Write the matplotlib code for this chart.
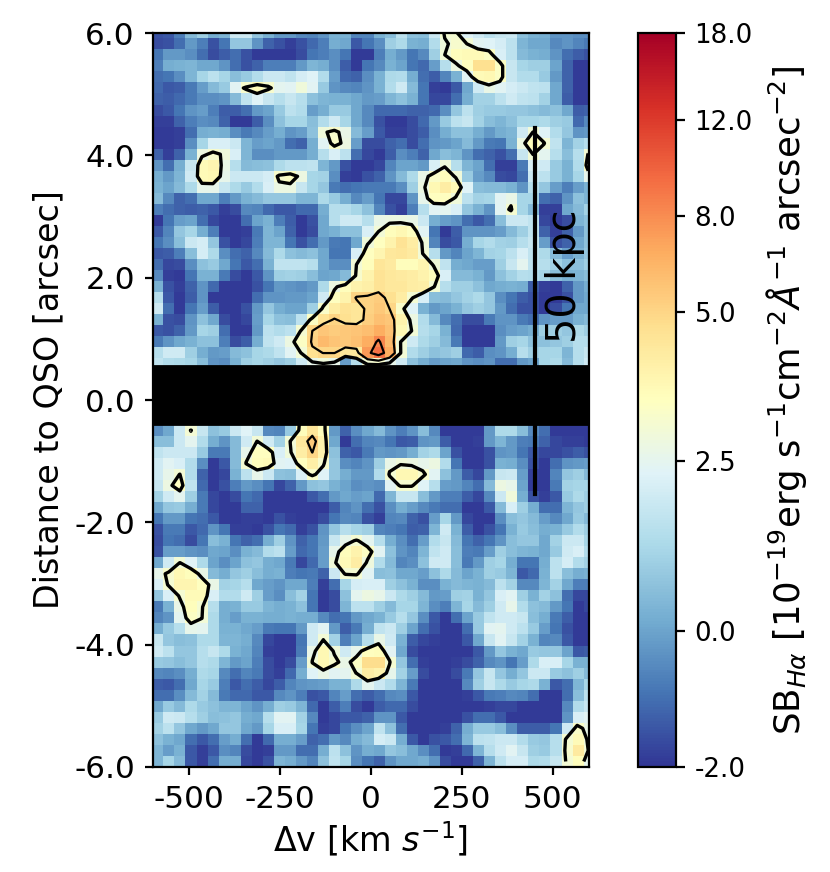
import numpy as np
import matplotlib
matplotlib.use("Agg")
import matplotlib.pyplot as plt
from matplotlib.colors import FuncNorm

plt.rcParams['axes.unicode_minus'] = False

# surface brightness, row by row, 40 columns
above_band = [
[-1.5,-1.4,-.7,.5,1,.2,.4,2,2,.8,.3,-.2,-.2,-.5,-.6,-.3,.3,.3,-.6,-.6, .3,.6,1.6,.7,.6,1.9,3.1,3.1,2.3,2,1.6,1.8,1.9,.7,.3,.2,-.3,-.3,-.4,-.4],
[-1.6,-1.5,-1,-.2,-.7,-1.5,-.9,.8,.8,-.3,-1.2,-1.5,-1.8,-1.5,-1.1,-.7,.2,.1,-1.4,-.9, -.4,1,1.3,.3,.2,1.4,2.9,3.2,3,2.4,2.3,2.1,1.6,.4,.1,.1,-.5,-.3,-.6,-.8],
[-.9,-.2,-.2,-.4,-1,-1.6,-1.3,-1,-1.5,-1.9,-1.9,-1.9,-1.9,-1.6,-.9,-.7,-.4,-.9,-1.9,-1.9, -.7,.2,-.2,-.9,-.5,1,3,3.6,3.7,3.7,3.4,2.2,1.6,.5,.3,.2,-.3,-1,-1.3,-1.5],
[-.7,.2,.3,.4,.1,.1,-.3,-1,-1.5,-1.2,-.7,-.7,-.7,-.2,.4,.2,-.4,-1.3,-1.9,-.9, -.5,.3,0,-.9,-1.1,-.1,1.5,2.8,3.5,4.7,4.7,3.4,1.8,1.2,1,1,0,-1.2,-1.9,-1.9],
[-1,-.9,-.4,.4,1.2,1.6,1.2,.6,.9,1.4,1.9,1.9,1.7,2.1,2.3,1.4,-.1,-1.1,-1.2,-.4, .3,1.3,1.4,.2,-1,-1.3,-.6,.3,2.4,3.7,3.8,3.4,1.8,1.4,1.4,.9,-.2,-1.2,-1.9,-1.9],
[-1.1,-1.4,-1.3,-.8,-.1,.5,.9,2.4,3.2,3.7,3.2,2.5,2.4,2.9,2.4,.9,-.3,-.5,-.6,-.3, .3,1.4,2,.5,-.9,-1.8,-1.9,-1.4,.1,2,2.7,2.4,2.1,1.9,1.7,1.6,.1,-1.2,-1.9,-1.9],
[-1.2,-1.3,-1.1,-.8,-.4,-.4,-.3,.5,1.7,2.3,1.8,1.5,1.8,1.5,.7,.4,.3,.3,.1,-.2, -.1,.4,.7,.3,-.9,-1.7,-1.7,-1,.2,1.1,1.1,1.6,2,1.7,1.6,1.1,.1,-1.3,-1.9,-1.9],
[-1.6,-1.4,-.9,-.3,-.1,-.7,-1.3,-1.3,-1,-.2,0,.9,1.6,1.4,-.1,.2,.9,.9,.1,-.5, -1.1,-1.1,-1.1,-1.2,-1.2,-1.1,-.4,.8,1.6,1,.9,.9,.8,.8,.7,.5,.7,.1,-1.3,-1.2],
[-1.8,-1.8,-1.2,-.7,-.4,-.5,-1.2,-1.9,-1.9,-1.3,-.4,.7,1.2,1.2,.6,1.4,2,1.2,.1,-.5, -1.5,-1.9,-1.9,-1.6,-1.1,-.2,.9,1.6,1.8,1.1,.6,.4,.7,1.2,1.2,1.3,1,.9,-1.1,-.5],
[-1.9,-1.9,-1.8,-1,.2,.3,.2,-.4,-.8,-.5,-.1,.2,-.3,-.1,.7,2.9,3.2,2.7,.5,-.1, -1.4,-1.8,-1.8,-1.6,-1.3,-.4,.2,.7,.7,.2,-.2,.2,.4,2,3.02,2.3,1.4,.8,-.3,-.2],
[-1.9,-1.9,-1.8,-.4,1.2,2.2,2.2,1.9,.4,-.1,0,-.2,-1,-1.2,.2,2.4,3.3,2.8,-.1,-1.6, -1.6,-1.2,-1,-1.6,-1,-.3,-.2,0,.5,-.2,-.8,-.9,.3,2.8,3.6,3.05,1.7,.4,1.1,1.5],
[-1.2,-1.8,-1.2,.3,2.8,3.2,2.9,2.2,.4,-.4,-.4,-.2,-.2,-.2,.2,1.5,2.2,1.6,-1,-1.7, -1.9,-1.3,-.4,-.7,-1.2,.1,.6,.4,-.3,-1,-1.2,-1.5,-1,1.8,3.02,2.5,1.5,.6,1.5,3.05],
[-.3,-1,.2,1.8,3.7,3.9,2.7,1.5,.5,.6,.7,1.3,1.6,1.6,1.7,.4,-.2,-1.5,-1.9,-1.9, -1.7,-.6,0,0,-.2,2.2,2.9,1.5,.4,0,-1,-1.8,-1.8,-.8,2.2,2,.9,.3,1.4,3.4],
[.2,-.2,.4,2,3.7,3.8,2.6,1.9,1.9,1.9,2.1,3.2,3.4,2.8,1.2,1.1,-.4,-1.8,-1.9,-1.5, -1.2,-.3,.5,1.3,2.7,3.3,3.6,2.9,.9,-.1,-.5,-1.6,-1.7,-1,1.9,1.6,.9,.3,1.2,2.6],
[.3,0,.5,1.3,2.6,2.6,1.8,1.3,.9,1.4,2.2,2.8,2.8,1.8,1.2,.8,-.8,-1,-.9,-.8, -.8,-.8,-.4,1,2.8,3.8,4.2,3.7,2.3,.6,.5,.5,.3,-.3,1.5,.8,-.1,-.7,-.1,.3],
[.5,-.5,-1.2,-1,.1,.1,-.7,-.2,.3,.5,.8,.8,.8,.4,.4,1.3,.9,.2,-.5,-.1, -.9,-1.7,-1.7,-.3,2.6,3.5,3.5,2.9,1.6,1.1,1.2,2.4,2.7,1.2,1.2,-1,-1.2,-.3,.7,.4],
[-.7,-1,-1.2,-1.3,-1.2,-1.4,-1.8,-1.6,-.5,-.6,-1.1,-1.4,-1.4,-1.1,-1.1,.2,1.5,1.5,1.2,.7, -.6,-1.5,-1.8,-.7,1.5,2.4,2.5,2.2,.8,.3,-.3,2.4,3.15,1.2,.5,-1.8,-1.8,.1,.5,1.1],
[-1.9,-.9,-.1,0,-1,-1.7,-1.9,-1.9,-1,0,.3,-.7,-1.3,-1.9,-1.5,.1,1.5,2,2,1.5, 2.7,2.8,2.8,2.7,1.9,.2,-.1,-.3,-1,-1.4,-1,.6,1.9,1.9,1.7,-1.7,-1.9,-1.6,.4,.7],
[-1.4,-.6,.8,1.2,.2,-.7,-1.9,-1.9,-1.8,-.8,.4,0,-1.2,-1.9,-1.6,.1,.3,.7,.7,2.2, 3,3.6,3.8,3.5,2.4,-.9,-1.9,-1.3,-.3,-.3,-.3,-.1,.5,1,1.7,-1.2,-1.8,-1.2,-.2,.7],
[-.9,-.4,.6,1.9,2.1,.8,-1.5,-1.9,-1.7,-.7,.4,.4,-.9,-1.5,-1,-.2,-.8,-.9,.1,2.9, 3.5,4,4.6,4.2,2.9,-.6,-1.6,-1.4,.2,1.2,1.4,1.1,1,1.5,1.8,-.1,-1.5,-1.2,.1,.7],
[-1.4,-1.3,-.7,.6,2.1,1.3,-.4,-1,-1.2,-.5,.5,1.3,.7,.5,.7,.1,-.9,-.9,2.2,3.5, 3.9,4.4,4.5,4.3,3,1.5,-.2,-.6,0,.4,1.1,1.2,1.6,2.2,1.7,1.3,.5,-.1,.3,.8],
[-1,-1.7,-1.6,-.4,.7,.9,.1,-.9,-1.4,-1,.3,1.7,1.7,1.7,1.5,.1,-.4,-.4,3,3.6, 4.5,4.3,3.6,3.6,3.9,2.9,1.7,.2,.1,-.1,-.1,1,1.8,2.5,1.7,1.5,1.1,.7,.7,1],
[-.5,-1.8,-1.9,-.9,.3,.3,-.8,-1.6,-1.9,-1.4,-.3,1,1.1,1,.6,0,.1,.5,3.2,4, 4.6,4.4,4.3,4.2,4,3.6,2.2,.5,.5,.3,-.2,.7,1.1,1.5,1.4,1.2,.6,.3,.4,.6],
[.3,-1.5,-1.8,-1.2,-.3,-1.1,-1.9,-1.9,-1.9,-1.5,-.9,-.2,-.3,-.4,-.2,1.3,2.8,3.6,4,4.1, 4.6,4.4,4.4,4.2,4.1,3.1,1.5,1,1,.7,.1,.2,.3,.2,-1.3,-1.8,-1.9,-1.2,-.2,.2],
[1.5,-1.4,-1.9,-1.3,-.3,-1.9,-1.9,-1.9,-1.9,-1,-.3,-.3,-.2,-.2,0,2,3.5,4,5.1,5.2, 5.4,4.7,4.2,3.1,2.2,.6,.5,.8,1.1,1.3,.8,-.4,-.9,-1.3,-1.5,-1.9,-1.9,-1.5,-.2,.1],
[2,-1,-1.9,-.9,-.1,-1.3,-1.9,-1.9,-1.5,-.2,.8,.2,0,0,1,3.3,4.2,4.6,4.5,5.2, 5.6,5,3.3,2.3,.3,-.2,0,.3,.8,1,.8,-.2,-1,-1.5,-1.5,-1.9,-1.6,-.9,.1,.1],
[.3,-1.5,-1.6,-.3,.7,.1,-1.6,-1.9,-1.7,-.1,1.2,.7,.6,1.6,3.4,4.6,5.1,4.7,4.5,5.3, 6,5.7,4,2.8,1.4,.5,-.5,-1,-1.6,-1.6,-.8,-.3,-.3,-.8,-1,-.3,-.1,-.1,.3,.5],
[-1.4,-1.5,-1.2,-.2,1.2,1,-1,-1.9,-1.9,-.2,1.6,1.4,1.6,3.1,5,5.7,5.4,5.6,5.8,6.1, 6.8,6,3.8,3,1.5,1.2,.3,-1.1,-1.9,-1.9,-1.9,-.4,-.1,0,.2,1,1,.8,1.3,1],
[-.8,-.3,.1,.3,.7,.7,-.7,-1.6,-1.3,.2,1.7,2,2.8,3.4,5.2,6.2,5.8,5.6,6,6.8, 8.3,6.2,3,2,1.3,1,.5,-.8,-1.9,-1.9,-1.9,-.2,1,1.2,.7,.7,.8,1,1.5,1.5],
[1.5,2,2,1,.2,-.2,-.1,.5,.7,1.2,1.3,1.7,2.4,3.02,4.7,5.02,5.02,4.4,4.4,7.5, 9.2,6.8,3.02,1.4,1,.7,.8,1,-1.1,-1.3,-.4,-.3,.2,1.5,1,1.2,1.2,.4,1.5,1.8],
[1.7,1.4,1.3,1.2,.6,-.3,-.4,.3,1,1.2,1,.8,1,2,2.6,2.9,2.6,-.1,1.5,3.1, 3.2,2.6,2,.7,.2,-.1,0,.1,-.3,-.4,-.3,-1,-1,-.2,0,1.2,1.3,.5,1.5,2],
]

# rows hidden by the black band, only the blob at -170 km/s runs into it
behind_band = [
[0]*40,
[0]*40,
[0]*40,
[0]*40,
[0]*13 + [3.5,3.5,3.5] + [0]*24,
]

below_band = [
[-.4,.1,1.9,3.05,1.8,.7,.9,1.9,2.3,1.8,-.5,-.6,.9,3.6,4.5,3.6,-.2,-1.2,-.4,.1, .5,-.3,-.7,-.3,.6,-.5,-1.9,-1.9,-1.9,-1.9,-.2,1.3,1.3,.6,-.5,-1,-1.9,-1.9,-1.9,-1.9],
[.6,.6,1.9,2.5,1.4,.2,-.3,.5,2,3.02,2,1.1,3.02,4.4,5.5,4,.1,-1.9,-1,-.6, -.5,-.9,-1.4,-1.3,-.3,-.2,-1.3,-1.9,-1.9,-1.8,-.2,.4,-.2,-.7,-.8,-1.2,-1.7,-1.8,-1.8,-1.9],
[1.7,1.9,1.9,1.9,.9,-.8,-.8,.5,2.6,3.5,3.5,2.2,2.9,4.2,5.02,4,.7,-1.2,-1.4,-.8, -.2,-.3,-.2,.2,1.1,1.3,0,-1.5,-1.9,-1.9,-1.5,-.3,-.2,-.9,-1.4,-1.7,-1.7,-1.5,-1.3,-1.5],
[2,2.4,2.2,1.4,-.4,-1.9,-1.4,.5,3.05,3.6,3.7,2.4,2.3,3.5,4.1,3.2,.8,-.4,-.6,-.3, 1,2.7,2.9,2.8,2.6,2.8,1.4,-.9,-1.9,-1.9,-1.5,.3,.2,-.4,-1.5,-1.9,-1,-.3,-.2,-.1],
[2,2.6,3.02,1.4,-1.2,-1.9,-1.7,.3,1.6,2.6,1.9,.7,.6,2.2,3.3,2.3,.8,.2,-.2,-.2, 1.4,3.1,3.8,3.8,3.2,2.4,.7,-.2,-1.3,-1.7,-.2,1.8,1.9,-.1,-1.8,-1.9,-.6,.8,1,.5],
[1.8,2.8,3.5,1.7,-1.1,-1.9,-1.5,-.7,-.2,-.4,-.9,-1.7,-1.2,-.2,.7,.8,.3,0,-.4,-.3, -.4,2.4,3.1,3.1,2.3,1.5,-.1,-.2,-.6,-1,.5,2.8,2.6,0,-1.9,-1.9,-.8,1.1,1.2,1.2],
[1.1,2,2.5,1,-.8,-1.7,-1.9,-1.6,-.9,-1.1,-1.9,-1.9,-1.9,-1.9,-1.4,-1,-.2,.1,-.1,0, -1.1,.4,1.8,1.8,.6,-.2,-.7,-.7,-1.3,-1.7,-.5,1.9,2.9,.2,-1.5,-1.8,-1.4,.9,1.3,1],
[.1,.8,.9,.2,-.8,-1.7,-1.9,-1.9,-1.2,-1.2,-1.9,-1.9,-1.9,-1.9,-1.9,-1.9,-1.3,-.6,-.3,-1, -1.5,-.4,.2,-.1,-.5,-.8,-1,-1,-1.9,-1.9,-1.4,.5,2.2,1,.2,-1,-1,.4,.8,1],
[-.9,-.2,-.2,-.9,-1,-1.4,-1.9,-1.9,-1.8,-1.8,-1.9,-1.5,-1.8,-1.9,-1.9,-1.6,-.9,-.5,-.6,-1.5, -1.8,-.6,-.5,-1.2,-1.5,-.1,1.2,-.2,-1.7,-1.9,-1.9,-.4,.6,.8,.5,-.1,-.5,.1,.9,.5],
[-1.5,-.8,-.8,-1.4,-1.1,-.3,-.9,-1.8,-1.8,-1.9,-1.5,-.9,-1.1,-1.8,-1.5,-.3,.8,1.5,1.2,1, -.6,-.7,-.9,-1.3,-1.2,.4,2,.3,-1.3,-1.9,-1.5,-.9,.3,.9,.6,.2,.3,.9,1.4,1],
[-1.6,-.9,-1,-1.6,-.9,.6,.3,-.9,-1.2,-1,.2,1,-.3,-1.2,-.9,-.2,1.8,2.6,3.1,2.5, 1.5,.2,-.4,-1,-.1,1.4,1.8,.5,-.9,-1.2,-.9,-.3,.6,.8,.8,.1,1.1,1.9,1.9,1.2],
[-1.5,-.1,-.1,-.3,-.4,.1,0,-.4,.3,.5,1.4,1.6,-.1,-1.1,-.9,-.1,2.6,3.6,4,3.4, 2.4,.7,-.3,-.6,.4,1.7,2,.6,-.7,-.8,-.1,1,.6,.4,.3,.1,.9,2,2.2,1.4],
[.1,2,3.02,2.3,1.3,0,-.4,0,.7,.8,.2,.1,-.8,-1.7,-1.1,-.1,2.9,3.7,4.2,2.85, 1.4,.5,-.6,-.4,.7,2,2,.6,-.8,-.2,1,1.2,.2,-.9,-.9,.2,1.6,2.1,1.4,1.1],
[2.6,3.2,3.8,3.6,2.7,.5,.2,.8,1,.6,.2,.3,-.7,-.9,-.8,-1.2,1.9,3.1,3.1,2.4, .6,.7,.1,.1,-.1,.7,1.3,.5,0,.3,1,.9,.4,-1.4,-1.1,.3,1.6,.6,.2,.3],
[2.2,3.1,3.9,3.9,3.5,2.7,1.1,1.2,1.5,.1,-.1,-.3,.1,.1,-.7,-1.8,-1,1.2,2.1,2.2, 2.2,1,.7,.3,-.4,-.4,.3,.5,.4,.3,.5,1.6,1.1,-.5,-.5,.4,1.1,.1,-.7,-.7],
[.8,2.2,3.1,3.7,3.7,2.2,1.4,1.4,2,1,-.1,-.4,.6,1.1,-.9,-1.9,-1.6,.7,2.5,2.8, 2.6,1.9,1.3,1,.5,-.2,-.1,1,1.1,.3,.8,2.2,2.4,1,.3,1.1,.7,-1,-1.7,-1.7],
[-.8,.3,2.7,3.6,3.1,1.5,.2,.3,.9,.9,.4,.2,.3,.7,-.9,-1.9,-1.6,.4,1.6,1.6, 1,.5,1.2,1.2,.4,-.4,-.7,.4,1.2,.5,1,2,2.6,1.4,.7,.5,-.2,-.9,-1.9,-1.7],
[-.6,-.3,2.5,3.4,3.02,1.3,.2,-.1,.3,.3,.2,.2,.3,.2,.2,-.5,-1,-.9,-.2,.1, .3,.9,1.5,.8,-.4,-1.4,-1.9,-1,0,.9,1.7,2,2,1.8,.6,.2,-.8,-1.3,-1.9,-1.9],
[.2,.9,1.5,2.6,2.5,1.3,.3,.3,.1,-.1,-.8,-.9,-.9,-.2,2,2.4,-.2,-1.3,-.8,.2, 1.7,1.9,1,0,-1,-1.5,-1.9,-1.9,-1,.9,2.4,2.5,2,1.6,.9,-.1,-.9,-1.5,-1.9,-1.9],
[1.8,.8,.6,.7,1.3,1.3,.4,.4,.2,-.5,-1.7,-1.9,-1.9,-.9,2,3.02,1.1,-.7,0,1.5, 2.7,2,.3,-1.3,-1.7,-1.8,-1.9,-1.9,-1.4,.1,1.8,2.4,1.8,1.1,.3,-.6,-.5,-1.4,-1.9,-1.9],
[2,1.6,.8,.8,1.5,1.8,1.3,.3,.1,-.6,-1.8,-1.9,-1.9,-.8,2.7,3.8,2.9,2,2.6,3.5, 3.6,2.4,.1,-1.6,-1.9,-1.9,-1.9,-1.9,-1.9,-1.4,-.2,.8,.3,.1,.9,.8,.8,0,-1.4,-1.3],
[.9,.8,.6,.8,1.5,1.3,.4,-.2,0,-.7,-1.6,-1.9,-1.6,-.1,3.05,3.8,3.2,2.7,3.4,4.8, 4.8,3.1,.8,-1,-1.8,-1.9,-1.9,-1.8,-1.6,-1.2,-.5,-.3,-.9,-.1,1.3,2.2,2.2,1.2,.3,.3],
[-.5,-.6,-.4,.2,1.3,1.2,-.5,-1,-.6,-.8,-1.6,-1.8,-1.1,.2,2.3,2.7,2.4,2.5,3.02,4.2, 4,2.6,1.1,-.1,-1.6,-1.9,-1.9,-1.6,-.8,.8,1.8,.8,.2,.8,1.9,1.9,.9,.7,1,.5],
[-1.3,-1.4,-1,.1,1.2,.9,-.7,-1.4,-1,-1.3,-1.7,-1.3,-.6,-.3,-.2,-.1,.3,.3,1.3,2.5, 1.9,1.4,.4,-.8,-1.9,-1.9,-1.9,-1.9,-.5,1,1.8,1.3,.9,1.2,1.3,.3,-1.4,-1,.4,1.2],
[-1,-1,-.4,.5,1.1,.5,-.8,-1.1,-1.1,-1.4,-1.4,-.5,-.3,-.7,-1.5,-1.4,-.6,-.1,-1,-1.3, -1,-.5,-.4,-1.4,-1.9,-1.9,-1.9,-1.9,-1.8,-1.4,-.8,-.7,-.5,-.6,-1,-1.9,-1.9,-1,.6,1.6],
[.1,.9,.5,1.3,.9,.7,.4,.4,0,-.3,.2,1,.9,.4,-1.1,-1.9,-1.3,-.7,-1.6,-1.9, -1.3,-1.1,-1.1,-1.6,-1.9,-1.9,-1.9,-1.9,-1.9,-1.9,-1.8,-1.7,-1.7,-1.9,-1.9,-1.9,-1.9,-.5,1.4,1.8],
[.9,2,1.9,1.5,1,.6,.7,.8,.2,.1,1.5,2.4,2.4,1.1,-.5,-1.9,-1.7,-1.4,-1.4,-1.2, -.3,-.3,-1.4,-1.9,-1.9,-1.9,-1.9,-1.9,-1.5,-1,-1,-1.4,-1.9,-1.9,-1.9,-1.9,-1.9,-.3,2.2,2.4],
[1.1,1.6,.8,.1,-.2,.1,.8,.8,.1,-.2,1.2,2.2,2.2,1.2,-.9,-1.8,-1.7,-.9,-.4,0, 1.7,.7,-1,-1.9,-1.9,-1.9,-1.8,-1.2,.2,.9,.9,.6,-.4,-1.3,-1.3,-1.3,-.9,2,3.3,2.7],
[.7,.3,.1,-1,-1.4,-1,-.1,.2,-1,-1.9,-1.1,.2,.2,-.1,-1.2,-1,-.2,-.5,.2,.5, 2.1,1.9,.2,-1.4,-1.9,-1.5,-1.4,-1,.4,1.6,1.7,1.9,1.9,1.4,.9,.8,1.5,3.1,3.7,2.9],
[.4,-.1,.3,-1.4,-1.8,-1.4,-.4,-.6,-1.6,-1.9,-1.8,-.2,-.2,-1,-1,.2,1.6,.7,-.3,.2, .1,.8,.6,.1,-.4,-1,-1.9,-1.8,-1.1,.4,1.5,2,2.4,1.8,1,.9,1.5,3.2,4.3,3],
[.4,1.2,.5,-1.4,-1.8,-1,.2,.2,-1.7,-1.9,-1.5,.4,.2,-.2,-.6,.7,1.7,1.2,-.4,-.9, -1.2,-.3,.1,.1,.2,-.3,-1.6,-1.9,-1.9,-1.2,.4,1.6,2.1,2.1,1.3,1.4,1.8,3.05,3.6,2.6],
]

contour_levels = [3, 5, 8]
xtick_values = [-500, -250, 0, 250, 500]
ytick_values = [-6, -4, -2, 0, 2, 4, 6]
cbar_ticks = [-2, 0, 2.5, 5, 8, 12, 18]
# where each colorbar tick sits along the bar
cbar_positions = [0, 0.185, 0.417, 0.62, 0.75, 0.881, 1]

sb = np.array(above_band + behind_band + below_band, dtype=float)


def forward(v):
    return np.interp(v, cbar_ticks, cbar_positions)


def inverse(p):
    return np.interp(p, cbar_positions, cbar_ticks)


norm = FuncNorm((forward, inverse), vmin=-2, vmax=18)

fig = plt.figure(figsize=(4.15, 4.36), dpi=200)
ax = fig.add_axes([153/830, 105/872, 436/830, 734/872])
cax = fig.add_axes([638/830, 105/872, 38/830, 734/872])

# the grid runs a little past the axes on the top and right
extent = [-602, 613, -6.0, 6.094]
im = ax.imshow(sb, extent=extent, origin='upper', aspect='auto', cmap='RdYlBu_r',
               norm=norm, interpolation='nearest')

nrows, ncols = sb.shape
xc = extent[0] + (np.arange(ncols) + 0.5) * (extent[1] - extent[0]) / ncols
yc = extent[3] - (np.arange(nrows) + 0.5) * (extent[3] - extent[2]) / nrows
ax.contour(xc, yc[::-1], sb[::-1], levels=contour_levels, colors='k',
           linewidths=[1.2, 0.8, 0.8])

# continuum subtraction region around the QSO
ax.axhspan(-0.39, 0.555, color='k', zorder=4)

ax.plot([450, 450], [4.45, -1.53], color='k', lw=1.5, zorder=5)
ax.text(534, 0.93, '50 kpc', rotation=90, fontsize=14.3, ha='center', va='bottom', zorder=5)

ax.set_xlim(-600, 600)
ax.set_ylim(-6, 6)
ax.set_xticks(xtick_values)
ax.set_xticklabels([str(v) for v in xtick_values])
ax.set_yticks(ytick_values)
ax.set_yticklabels(['%.1f' % v for v in ytick_values])
ax.tick_params(labelsize=11.2, length=3, width=0.8)
ax.set_xlabel(r'$\Delta$v [km $s^{-1}$]', fontsize=12, labelpad=2)
ax.set_ylabel('Distance to QSO [arcsec]', fontsize=12, labelpad=3)

cb = fig.colorbar(im, cax=cax)
cb.set_ticks(cbar_ticks)
cb.set_ticklabels(['%.1f' % v for v in cbar_ticks])
cb.ax.tick_params(labelsize=9.4, length=3.2, width=0.8)
cb.ax.minorticks_off()
cb.set_label(r'SB$_{H\alpha}$ [$10^{-19}$erg s$^{-1}$cm$^{-2}\AA^{-1}$ arcsec$^{-2}$]',
             fontsize=12.8, labelpad=4)

fig.savefig('out.png', dpi=200)
